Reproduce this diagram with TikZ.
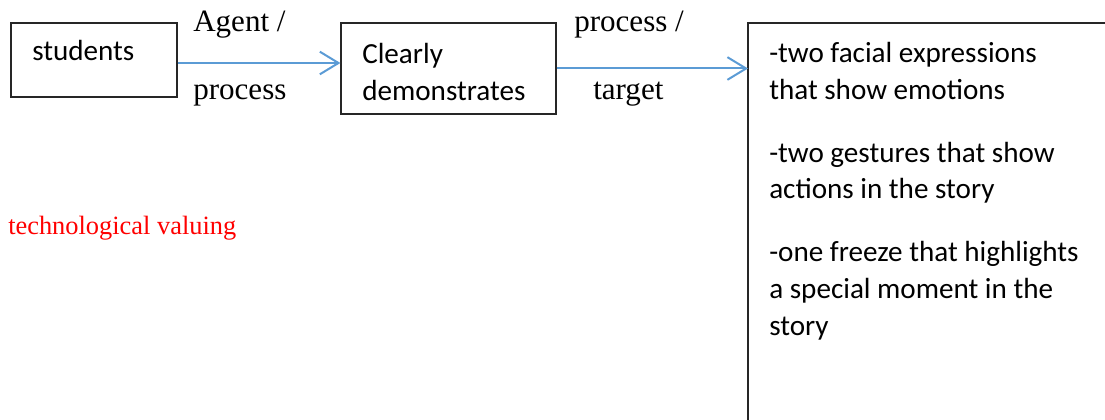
\documentclass[tikz,border=0pt]{standalone}
\usepackage{fontspec}
\setmainfont{Liberation Serif}
\newfontfamily\calibri{Carlito}
\usetikzlibrary{arrows.meta}
\definecolor{arrowblue}{HTML}{5B9BD5}
\begin{document}
\begin{tikzpicture}[x=0.75pt,y=-0.75pt,
  boxstyle/.style={draw=black!85, line width=0.9pt, inner sep=0pt},
  arr/.style={draw=arrowblue, line width=1.5pt, -{Straight Barb[length=14pt,width=17pt,line width=1.5pt]}},
  cal/.style={anchor=base west, inner sep=0pt, font=\calibri\fontsize{21.85}{26}\selectfont},
  tms/.style={anchor=base west, inner sep=0pt, font=\fontsize{23.3}{27}\selectfont},
]
\useasboundingbox (0,0) rectangle (1105,420);
\clip (0,0) rectangle (1105,420);
% boxes
\node[boxstyle, minimum width=124.5pt, minimum height=55.5pt] (students) at (94,60) {};
\node[boxstyle, minimum width=161.25pt, minimum height=68.25pt] (clearly) at (448.5,68.5) {};
\node[inner sep=0pt, minimum width=277.5pt, minimum height=315pt, anchor=north west] (tb) at (748,23) {};
\draw[black!85, line width=0.9pt] (tb.south west) -- (tb.north west) -- (tb.north east);
% connectors
\draw[arr] ([yshift=-2.25pt]students.east) -- ([yshift=-2.25pt]students.east -| clearly.west);
\draw[arr] (clearly.east) -- (clearly.east -| tb.west);
% box texts
\node[cal] (tstudents) at (32,61) {students};
\node[cal] (tclearly) at (362,64) {Clearly};
\node[cal] (tdemo) at (362,101) {demonstrates};
% labels
\node[tms] (lagent) at (193,32) {Agent /};
\node[tms] (lproc1) at (193,100) {process};
\node[tms] (lproc2) at (574,32) {process /};
\node[tms] (ltarget) at (593,100) {target};
\node[anchor=base west, inner sep=0pt, text=red, font=\fontsize{19.8}{24}\selectfont] (tv) at (8,234) {technological valuing};
% right box text
\node[cal] (r1) at (769,63) {-two facial expressions};
\node[cal] (r2) at (769,100) {that show emotions};
\node[cal] (r3) at (769,163) {-two gestures that show};
\node[cal] (r4) at (769,199) {actions in the story};
\node[cal] (r5) at (769,261) {-one freeze that highlights};
\node[cal] (r6) at (769,298) {a special moment in the};
\node[cal] (r7) at (769,335) {story};
\end{tikzpicture}
\end{document}
